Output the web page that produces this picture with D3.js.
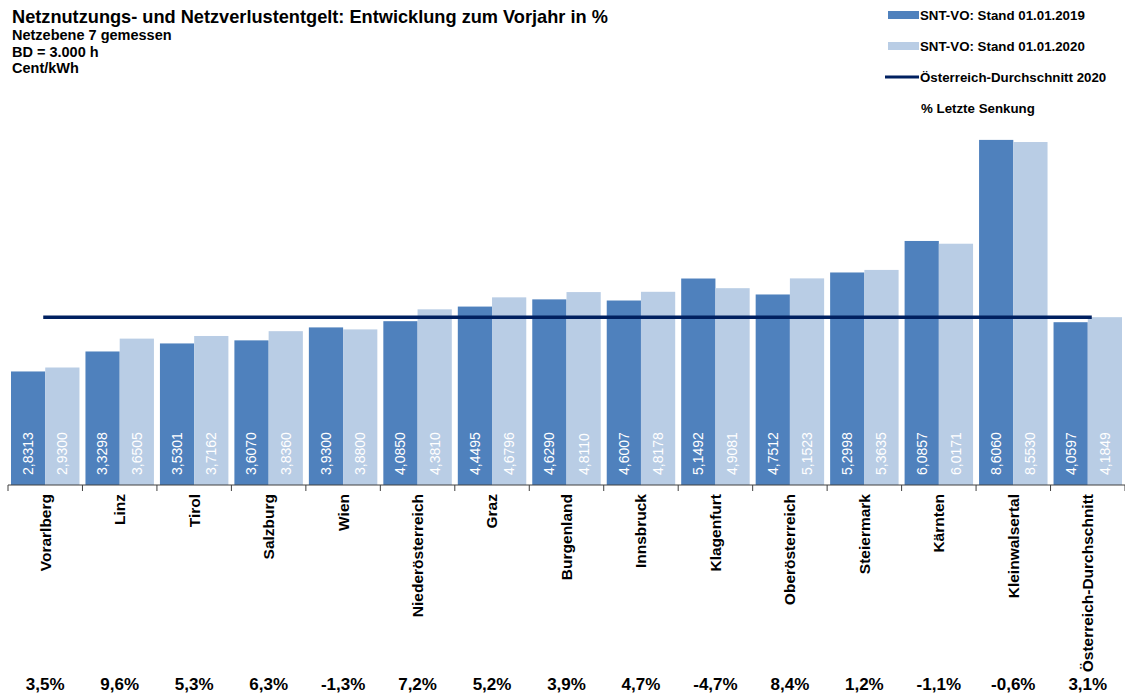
<!DOCTYPE html>
<html>
<head>
<meta charset="utf-8">
<script src="https://cdn.jsdelivr.net/npm/d3@7"></script>
<style>
  body { margin: 0; background: #fff; }
  svg { font-family: "Liberation Sans", Arial, sans-serif; }
</style>
</head>
<body>
<div id="chart"></div>
<script>
// chart data
const categories = ["Vorarlberg", "Linz", "Tirol", "Salzburg", "Wien", "Niederösterreich", "Graz",
  "Burgenland", "Innsbruck", "Klagenfurt", "Oberösterreich", "Steiermark", "Kärnten",
  "Kleinwalsertal", "Österreich-Durchschnitt"];
const values2019 = [2.8313, 3.3298, 3.5301, 3.6070, 3.9300, 4.0850, 4.4495, 4.6290, 4.6007,
  5.1492, 4.7512, 5.2998, 6.0857, 8.6060, 4.0597];
const values2020 = [2.9300, 3.6505, 3.7162, 3.8360, 3.8800, 4.3810, 4.6796, 4.8110, 4.8178,
  4.9081, 5.1523, 5.3635, 6.0171, 8.5530, 4.1849];
const changeLabels = ["3,5%", "9,6%", "5,3%", "6,3%", "-1,3%", "7,2%", "5,2%", "3,9%", "4,7%",
  "-4,7%", "8,4%", "1,2%", "-1,1%", "-0,6%", "3,1%"];
const averageValue = 4.1849;
const seriesNames = ["SNT-VO: Stand 01.01.2019", "SNT-VO: Stand 01.01.2020"];
const averageName = "Österreich-Durchschnitt 2020";
const changeName = "% Letzte Senkung";
const titleLines = ["Netzebene 7 gemessen", "BD = 3.000 h", "Cent/kWh"];

const width = 1125;
const height = 697;
const colors = ["#4f81bd", "#b9cde5"];
const lineColor = "#002060";

const de = d3.formatLocale({ decimal: ",", thousands: ".", grouping: [3], currency: ["", " €"] });
const fmt = de.format(".4f");

const svg = d3.select("#chart").append("svg")
  .attr("width", width)
  .attr("height", height);

const baseline = 485;

const x = d3.scaleBand()
  .domain(categories)
  .range([8, 1125])
  .padding(0);

const xSub = d3.scaleBand()
  .domain([0, 1])
  .range([3, x.bandwidth() - 3]);

const y = d3.scaleLinear()
  .domain([0, 10])
  .range([baseline, baseline - 401]);

const rows = categories.map((c, i) => ({ cat: c, vals: [values2019[i], values2020[i]], change: changeLabels[i] }));

// bars
const groups = svg.append("g")
  .selectAll("g")
  .data(rows)
  .enter().append("g")
  .attr("transform", d => `translate(${x(d.cat)},0)`);

groups.selectAll("rect")
  .data(d => d.vals.map((v, k) => ({ v, k })))
  .enter().append("rect")
  .attr("x", d => xSub(d.k))
  .attr("y", d => y(d.v))
  .attr("width", xSub.bandwidth())
  .attr("height", d => y(0) - y(d.v))
  .attr("fill", d => colors[d.k]);

groups.selectAll("text")
  .data(d => d.vals.map((v, k) => ({ v, k })))
  .enter().append("text")
  .attr("transform", d => `translate(${xSub(d.k) + xSub.bandwidth() / 2},${baseline - 10}) rotate(-90)`)
  .attr("dy", "0.35em")
  .attr("fill", "#fff")
  .style("font-size", "14px")
  .text(d => fmt(d.v));

// average line
svg.append("line")
  .attr("x1", x(categories[0]) + x.bandwidth() / 2 - 2)
  .attr("x2", x(categories[categories.length - 1]) + x.bandwidth() / 2 + 4)
  .attr("y1", y(averageValue))
  .attr("y2", y(averageValue))
  .attr("stroke", lineColor)
  .attr("stroke-width", 3.5);

// x axis
const axis = svg.append("g");
axis.append("line")
  .attr("x1", x.range()[0]).attr("x2", x.range()[1])
  .attr("y1", baseline).attr("y2", baseline)
  .attr("stroke", "#404040");
axis.selectAll("line.tick")
  .data(categories.map(c => x(c)).concat([x.range()[1]]))
  .enter().append("line")
  .attr("class", "tick")
  .attr("x1", d => d).attr("x2", d => d)
  .attr("y1", baseline).attr("y2", baseline + 6)
  .attr("stroke", "#404040");

axis.selectAll("text.cat")
  .data(categories)
  .enter().append("text")
  .attr("class", "cat")
  .attr("transform", d => `translate(${x(d) + x.bandwidth() / 2},${baseline + 9}) rotate(-90)`)
  .attr("text-anchor", "end")
  .attr("dy", "0.35em")
  .style("font-size", "15.5px")
  .style("font-weight", "bold")
  .text(d => d);

// change labels
svg.append("g")
  .selectAll("text")
  .data(rows)
  .enter().append("text")
  .attr("x", d => x(d.cat) + x.bandwidth() / 2)
  .attr("y", 690)
  .attr("text-anchor", "middle")
  .style("font-size", "17px")
  .style("font-weight", "bold")
  .text(d => d.change);

// title
svg.append("text")
  .attr("x", 12).attr("y", 23)
  .style("font-size", "18.2px")
  .style("font-weight", "bold")
  .text("Netznutzungs- und Netzverlustentgelt: Entwicklung zum Vorjahr in %");

svg.append("g")
  .selectAll("text")
  .data(titleLines)
  .enter().append("text")
  .attr("x", 12)
  .attr("y", (d, i) => 40 + i * 16.5)
  .style("font-size", "14.5px")
  .style("font-weight", "bold")
  .text(d => d);

// legend
const legend = svg.append("g").attr("transform", "translate(888, 0)");
const legendItems = [
  { label: seriesNames[0], type: "rect", color: colors[0] },
  { label: seriesNames[1], type: "rect", color: colors[1] },
  { label: averageName, type: "line", color: lineColor },
  { label: changeName, type: "none" }
];
const li = legend.selectAll("g")
  .data(legendItems)
  .enter().append("g")
  .attr("transform", (d, i) => `translate(0, ${15 + i * 31})`);

li.filter(d => d.type === "rect").append("rect")
  .attr("x", 0).attr("y", -4)
  .attr("width", 31).attr("height", 8)
  .attr("fill", d => d.color);

li.filter(d => d.type === "line").append("line")
  .attr("x1", -3).attr("x2", 31)
  .attr("y1", 0).attr("y2", 0)
  .attr("stroke", d => d.color)
  .attr("stroke-width", 3);

li.append("text")
  .attr("x", d => d.type === "none" ? 33 : 32)
  .attr("dy", "0.35em")
  .style("font-size", "13.3px")
  .style("font-weight", "bold")
  .text(d => d.label);
</script>
</body>
</html>
